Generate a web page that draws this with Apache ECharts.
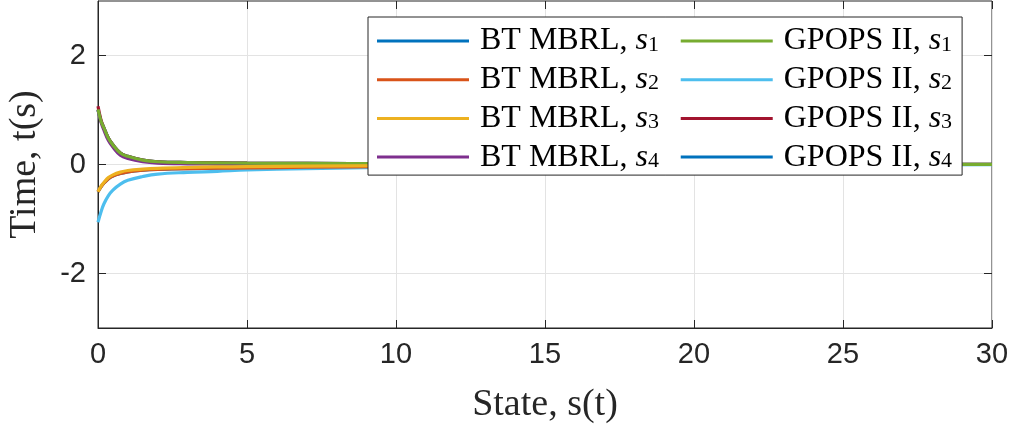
<!DOCTYPE html>
<html>
<head>
<meta charset="utf-8">
<script src="https://cdn.jsdelivr.net/npm/echarts@6/dist/echarts.min.js"></script>
<style>html,body{margin:0;padding:0;background:#fff;}#c{width:1016px;height:430px;}</style>
</head>
<body>
<div id="c"></div>
<script>
// Sample states (x axis)
const stateVals = [0, 0.1, 0.2, 0.35, 0.5, 0.75, 1, 1.5, 2, 3, 4, 5, 7, 10, 15, 20, 25, 30];
// Series values (y axis) (BT MBRL runs end behind the legend)
const btS1 = [-0.5, -0.41, -0.34, -0.26, -0.21, -0.165, -0.135, -0.105, -0.09, -0.075, -0.068, -0.062, -0.05, -0.035, -0.02, null, null, null];
const btS2 = [-0.5, -0.41, -0.34, -0.26, -0.21, -0.165, -0.135, -0.105, -0.09, -0.075, -0.068, -0.062, -0.05, -0.035, -0.02, null, null, null];
const btS3 = [-0.5, -0.40, -0.33, -0.24, -0.19, -0.14, -0.11, -0.085, -0.07, -0.055, -0.045, -0.04, -0.03, -0.02, -0.01, null, null, null];
const btS4 = [1.0, 0.78, 0.63, 0.44, 0.32, 0.17, 0.11, 0.05, 0.025, 0.012, 0.008, 0.005, 0.003, 0.002, 0.001, null, null, null];
const gpS1 = [1.01, 0.80, 0.67, 0.48, 0.36, 0.21, 0.15, 0.08, 0.05, 0.035, 0.03, 0.025, 0.02, 0.015, 0.01, 0.006, 0.004, 0.003];
const gpS2 = [-1.06, -0.87, -0.72, -0.57, -0.47, -0.36, -0.29, -0.22, -0.175, -0.145, -0.125, -0.10, -0.075, -0.05, -0.03, -0.015, -0.008, -0.004];
const gpS3 = [1.07, 0.82, 0.67, 0.48, 0.36, 0.21, 0.15, 0.08, 0.05, 0.035, 0.03, 0.025, 0.02, 0.015, 0.01, 0.006, 0.004, 0.003];
const gpS4 = [1.0, 0.80, 0.67, 0.48, 0.36, 0.21, 0.15, 0.08, 0.05, 0.035, 0.03, 0.025, 0.02, 0.015, 0.01, 0.006, 0.004, 0.003];
const xTicks = [0, 5, 10, 15, 20, 25, 30];
const yTicks = [-2, 0, 2];

const axisColor = '#262626';
const pair = (ys) => stateVals.map((x, i) => [x, ys[i]]);
const names = {
  bt1: 'BT MBRL, {i|s}{sub|1}', bt2: 'BT MBRL, {i|s}{sub|2}', bt3: 'BT MBRL, {i|s}{sub|3}', bt4: 'BT MBRL, {i|s}{sub|4}',
  gp1: 'GPOPS II, {i|s}{sub|1}', gp2: 'GPOPS II, {i|s}{sub|2}', gp3: 'GPOPS II, {i|s}{sub|3}', gp4: 'GPOPS II, {i|s}{sub|4}'
};
// draw order (bottom to top)
const seriesDefs = [
  [names.gp4, gpS4, '#0072BD'],
  [names.bt1, btS1, '#0072BD'],
  [names.gp3, gpS3, '#A2142F'],
  [names.bt4, btS4, '#7E2F8E'],
  [names.gp2, gpS2, '#4DBEEE'],
  [names.gp1, gpS1, '#77AC30'],
  [names.bt2, btS2, '#D95319'],
  [names.bt3, btS3, '#EDB120']
];
const series = seriesDefs.map(([n, ys, c]) => ({
  name: n, type: 'line', data: pair(ys), smooth: 0.4, showSymbol: false, connectNulls: false,
  lineStyle: { width: 3.2, color: c }, itemStyle: { color: c }, xAxisIndex: 0, yAxisIndex: 0
}));

const chart = echarts.init(document.getElementById('c'), null, { renderer: 'canvas' });
chart.setOption({
  animation: false,
  backgroundColor: '#fff',
  grid: { left: 98, right: 24, top: 1, bottom: 102, show: true, borderColor: axisColor, borderWidth: 1,
          containLabel: false, outerBoundsMode: 'none' },
  xAxis: [{
    type: 'value', min: 0, max: 30, interval: 5, position: 'bottom',
    name: 'State, s(t)', nameLocation: 'middle', nameGap: 58,
    nameTextStyle: { fontFamily: 'Liberation Serif', fontSize: 38, color: axisColor },
    axisLine: { show: true, onZero: false, lineStyle: { color: axisColor, width: 1 } },
    axisTick: { show: true, inside: true, length: 8, lineStyle: { color: axisColor } },
    axisLabel: { fontFamily: 'Liberation Sans', fontSize: 29, color: axisColor, margin: 12, customValues: xTicks },
    splitLine: { show: true, lineStyle: { color: '#e3e3e3', width: 1 } }
  }, {
    type: 'value', min: 0, max: 30, interval: 5, position: 'top',
    axisLine: { show: false, onZero: false }, axisLabel: { show: false }, splitLine: { show: false },
    axisTick: { show: true, inside: true, length: 8, lineStyle: { color: axisColor } }
  }],
  yAxis: [{
    type: 'value', min: -3, max: 3, position: 'left',
    name: 'Time, t(s)', nameLocation: 'middle', nameGap: 54, nameRotate: 90,
    nameTextStyle: { fontFamily: 'Liberation Serif', fontSize: 38, color: axisColor },
    axisLine: { show: true, onZero: false, lineStyle: { color: axisColor, width: 1 } },
    axisTick: { show: true, inside: true, length: 8, lineStyle: { color: axisColor }, customValues: yTicks },
    axisLabel: { fontFamily: 'Liberation Sans', fontSize: 29, color: axisColor, margin: 12, customValues: yTicks },
    splitLine: { show: true, lineStyle: { color: '#e3e3e3', width: 1 } }
  }, {
    type: 'value', min: -3, max: 3, position: 'right',
    axisLine: { show: false, onZero: false }, axisLabel: { show: false }, splitLine: { show: false },
    axisTick: { show: true, inside: true, length: 8, lineStyle: { color: axisColor }, customValues: yTicks }
  }],
  legend: {
    left: 368, top: 17, width: 620, orient: 'horizontal',
    data: [names.bt1, names.gp1, names.bt2, names.gp2, names.bt3, names.gp3, names.bt4, names.gp4],
    formatter: (n) => '{lead| }' + n + (n.indexOf('BT') === 0 ? '{sp| }' : ''),
    icon: 'rect', itemWidth: 92, itemHeight: 3, itemGap: 6.7,
    padding: [8, 10, 2, 9],
    backgroundColor: '#fff', borderColor: axisColor, borderWidth: 1,
    textStyle: {
      fontFamily: 'Liberation Serif', fontSize: 32, color: '#000', lineHeight: 30,
      rich: {
        i: { fontFamily: 'Liberation Serif', fontStyle: 'italic', fontSize: 32, color: '#000', lineHeight: 30 },
        sub: { fontFamily: 'Liberation Serif', fontSize: 22, color: '#000', lineHeight: 16, verticalAlign: 'bottom' },
        lead: { width: 6, fontSize: 10, lineHeight: 30 },
        sp: { width: 15, fontSize: 10, lineHeight: 30 }
      }
    }
  },
  series: series
});
</script>
</body>
</html>
